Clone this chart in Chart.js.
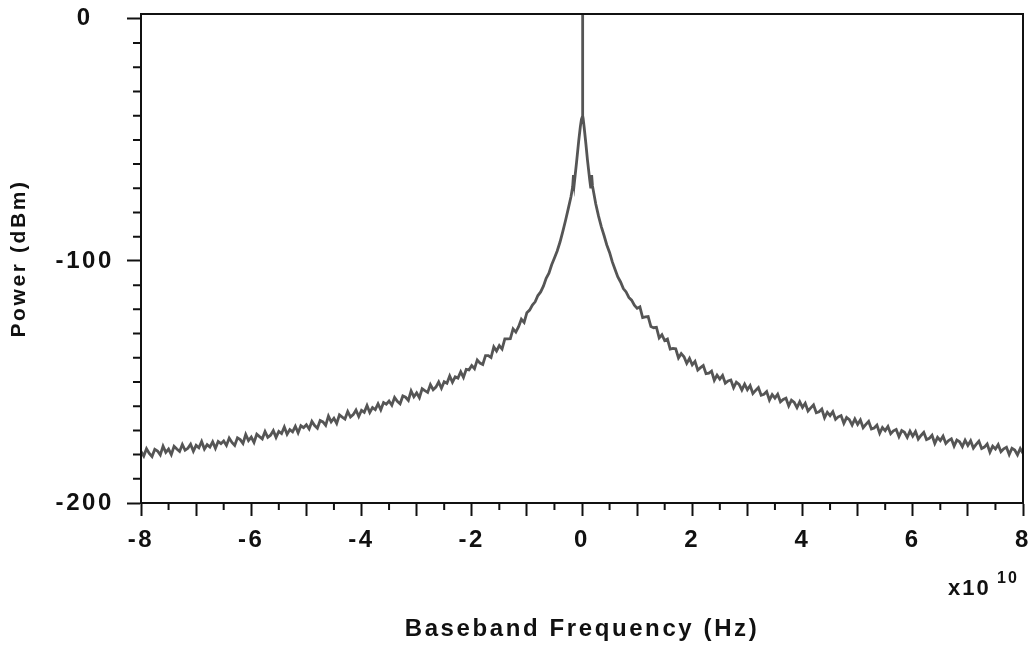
<!DOCTYPE html>
<html>
<head>
<meta charset="utf-8">
<script src="https://cdn.jsdelivr.net/npm/chart.js@4"></script>
<style>
  html, body { margin: 0; padding: 0; background: #fff; }
  #wrap { width: 1034px; height: 648px; }
</style>
</head>
<body>
<div id="wrap"><canvas id="spec"></canvas></div>
<script>
// frequency in units of 1e10 Hz, power in dBm
const freq = [
  -8.00, -7.95, -7.90, -7.85, -7.80, -7.75, -7.70, -7.65, -7.60, -7.55,
  -7.50, -7.45, -7.40, -7.35, -7.30, -7.25, -7.20, -7.15, -7.10, -7.05,
  -7.00, -6.95, -6.90, -6.85, -6.80, -6.75, -6.70, -6.65, -6.60, -6.55,
  -6.50, -6.45, -6.40, -6.35, -6.30, -6.25, -6.20, -6.15, -6.10, -6.05,
  -6.00, -5.95, -5.90, -5.85, -5.80, -5.75, -5.70, -5.65, -5.60, -5.55,
  -5.50, -5.45, -5.40, -5.35, -5.30, -5.25, -5.20, -5.15, -5.10, -5.05,
  -5.00, -4.95, -4.90, -4.85, -4.80, -4.75, -4.70, -4.65, -4.60, -4.55,
  -4.50, -4.45, -4.40, -4.35, -4.30, -4.25, -4.20, -4.15, -4.10, -4.05,
  -4.00, -3.95, -3.90, -3.85, -3.80, -3.75, -3.70, -3.65, -3.60, -3.55,
  -3.50, -3.45, -3.40, -3.35, -3.30, -3.25, -3.20, -3.15, -3.10, -3.05,
  -3.00, -2.95, -2.90, -2.85, -2.80, -2.75, -2.70, -2.65, -2.60, -2.55,
  -2.50, -2.45, -2.40, -2.35, -2.30, -2.25, -2.20, -2.15, -2.10, -2.05,
  -2.00, -1.95, -1.90, -1.85, -1.80, -1.75, -1.70, -1.65, -1.60, -1.55,
  -1.50, -1.45, -1.40, -1.35, -1.30, -1.25, -1.20, -1.15, -1.10, -1.05,
  -1.00, -0.95, -0.90, -0.85, -0.80, -0.75, -0.70, -0.65, -0.60, -0.55,
  -0.50, -0.45, -0.40, -0.35, -0.30, -0.25, -0.20, -0.17, -0.155, -0.14,
  -0.10, -0.06, -0.03, -0.01, 0.005, 0.010, 0.012, 0.014, 0.02, 0.04,
  0.07, 0.10, 0.14, 0.16, 0.175, 0.19, 0.25, 0.30, 0.35, 0.40,
  0.45, 0.50, 0.55, 0.60, 0.65, 0.70, 0.75, 0.80, 0.85, 0.90,
  0.95, 1.00, 1.05, 1.10, 1.15, 1.20, 1.25, 1.30, 1.35, 1.40,
  1.45, 1.50, 1.55, 1.60, 1.65, 1.70, 1.75, 1.80, 1.85, 1.90,
  1.95, 2.00, 2.05, 2.10, 2.15, 2.20, 2.25, 2.30, 2.35, 2.40,
  2.45, 2.50, 2.55, 2.60, 2.65, 2.70, 2.75, 2.80, 2.85, 2.90,
  2.95, 3.00, 3.05, 3.10, 3.15, 3.20, 3.25, 3.30, 3.35, 3.40,
  3.45, 3.50, 3.55, 3.60, 3.65, 3.70, 3.75, 3.80, 3.85, 3.90,
  3.95, 4.00, 4.05, 4.10, 4.15, 4.20, 4.25, 4.30, 4.35, 4.40,
  4.45, 4.50, 4.55, 4.60, 4.65, 4.70, 4.75, 4.80, 4.85, 4.90,
  4.95, 5.00, 5.05, 5.10, 5.15, 5.20, 5.25, 5.30, 5.35, 5.40,
  5.45, 5.50, 5.55, 5.60, 5.65, 5.70, 5.75, 5.80, 5.85, 5.90,
  5.95, 6.00, 6.05, 6.10, 6.15, 6.20, 6.25, 6.30, 6.35, 6.40,
  6.45, 6.50, 6.55, 6.60, 6.65, 6.70, 6.75, 6.80, 6.85, 6.90,
  6.95, 7.00, 7.05, 7.10, 7.15, 7.20, 7.25, 7.30, 7.35, 7.40,
  7.45, 7.50, 7.55, 7.60, 7.65, 7.70, 7.75, 7.80, 7.85, 7.90,
  7.95, 8.00
];
const power = [
  -178.7, -180.6, -177.6, -179.5, -180.8, -177.8, -178.5, -180.1, -176.5, -179.1,
  -177.7, -180.0, -176.6, -177.7, -178.7, -175.8, -178.2, -177.4, -175.7, -178.6,
  -176.2, -177.2, -174.6, -177.7, -175.9, -176.9, -174.7, -177.4, -174.6, -175.5,
  -174.4, -176.2, -173.2, -175.0, -176.2, -173.1, -173.8, -175.4, -171.7, -174.2,
  -172.8, -175.0, -171.6, -172.6, -173.5, -170.5, -172.9, -172.0, -170.1, -172.9,
  -170.4, -171.3, -168.6, -171.6, -169.7, -170.6, -168.3, -171.0, -168.1, -168.9,
  -167.7, -169.4, -166.3, -168.0, -169.1, -165.9, -166.5, -167.9, -164.1, -166.5,
  -165.0, -167.1, -163.6, -164.5, -165.3, -162.2, -164.5, -163.5, -161.6, -164.3,
  -161.7, -162.5, -159.7, -162.6, -160.6, -161.4, -159.0, -161.5, -158.5, -159.2,
  -157.9, -159.6, -156.4, -158.0, -159.0, -155.8, -156.3, -157.6, -153.7, -156.1,
  -154.5, -156.5, -152.8, -153.6, -154.3, -151.1, -153.2, -152.1, -150.0, -152.6,
  -149.9, -150.5, -147.5, -150.1, -147.9, -148.4, -145.8, -148.1, -144.8, -145.0,
  -143.2, -144.5, -140.9, -142.2, -142.8, -139.1, -139.1, -139.9, -135.5, -137.2,
  -135.0, -136.4, -132.2, -132.2, -132.1, -128.1, -129.4, -127.2, -124.1, -125.4,
  -121.4, -120.3, -118.2, -116.9, -114.3, -112.8, -110.4, -107.2, -105.1, -101.6,
  -98.8, -95.9, -92.3, -88.0, -83.4, -78.5, -73.5, -69.5, -64.5, -68.0,
  -59.5, -50.5, -44.5, -41.5, -40.5, -40.0, 2.0, -40.0, -41.0, -45.0,
  -51.5, -58.5, -66.5, -70.0, -64.5, -69.0, -76.5, -81.5, -85.8, -89.5,
  -93.4, -96.5, -100.4, -103.5, -106.6, -108.7, -111.4, -112.8, -115.1, -116.2,
  -118.3, -119.6, -119.0, -123.4, -123.1, -123.0, -127.1, -127.6, -127.4, -131.8,
  -130.5, -132.9, -132.3, -136.4, -136.1, -136.3, -140.1, -138.3, -139.6, -142.3,
  -140.3, -142.9, -141.5, -145.1, -144.1, -143.2, -146.6, -146.4, -145.5, -149.3,
  -147.2, -148.8, -147.3, -150.5, -149.6, -149.2, -152.4, -150.1, -151.0, -153.3,
  -150.9, -153.2, -151.5, -154.8, -153.5, -152.3, -155.5, -155.1, -154.0, -157.5,
  -155.2, -156.7, -155.1, -158.2, -157.2, -156.7, -159.9, -157.5, -158.4, -160.6,
  -158.2, -160.5, -158.8, -162.0, -160.7, -159.5, -162.7, -162.3, -161.2, -164.8,
  -162.5, -163.9, -162.3, -165.4, -164.4, -163.9, -167.1, -164.7, -165.6, -167.8,
  -165.3, -167.5, -165.7, -168.9, -167.5, -166.3, -169.4, -169.0, -167.8, -171.2,
  -168.8, -170.1, -168.4, -171.4, -170.2, -169.6, -172.6, -170.1, -170.8, -172.9,
  -170.3, -172.4, -170.5, -173.6, -172.1, -170.8, -173.8, -173.3, -172.0, -175.4,
  -172.9, -174.2, -172.4, -175.4, -174.2, -173.5, -176.5, -174.0, -174.7, -176.7,
  -174.1, -176.2, -174.3, -177.3, -175.8, -174.5, -177.5, -176.9, -175.6, -179.0,
  -176.5, -177.7, -175.9, -178.8, -177.6, -177.0, -180.0, -177.4, -178.1, -180.1,
  -177.5, -179.5
];

const xLabelled = [-8, -6, -4, -2, 0, 2, 4, 6, 8];
const xMinor = [-7.5, -6.5, -5.5, -4.5, -3.5, -2.5, -1.5, -0.5, 0.5, 1.5, 2.5, 3.5, 4.5, 5.5, 6.5, 7.5];
const yMajor = [-200, -100, 0];
const yMinor = [-190, -180, -170, -160, -150, -140, -130, -120, -110, -90, -80, -70, -60, -50, -40, -30, -20, -10];

const ink = '#111';
const fontFamily = "'Liberation Sans', Arial, sans-serif";

const spacing = {
  id: 'spacing',
  beforeUpdate(chart) { chart.ctx.letterSpacing = '2.6px'; },
  beforeDraw(chart) { chart.ctx.letterSpacing = '2.6px'; }
};

const extras = {
  id: 'extras',
  afterDraw(chart) {
    const { ctx, chartArea: a, scales } = chart;
    const xs = scales.x, ys = scales.y;
    ctx.save();
    ctx.strokeStyle = ink;
    ctx.lineWidth = 2;
    ctx.strokeRect(a.left, a.top, a.right - a.left, a.bottom - a.top);
    ctx.beginPath();
    xMinor.forEach(v => {
      const px = xs.getPixelForValue(v);
      ctx.moveTo(px, a.bottom);
      ctx.lineTo(px, a.bottom + 7);
    });
    yMinor.forEach(v => {
      const py = ys.getPixelForValue(v);
      ctx.moveTo(a.left, py);
      ctx.lineTo(a.left - 8, py);
    });
    ctx.stroke();
    // exponent of the x axis
    ctx.fillStyle = ink;
    ctx.letterSpacing = '2px';
    ctx.textBaseline = 'alphabetic';
    ctx.textAlign = 'left';
    ctx.font = 'bold 22px ' + fontFamily;
    ctx.fillText('x10', 948, 595);
    ctx.font = 'bold 16px ' + fontFamily;
    ctx.fillText('10', 997, 583);
    ctx.restore();
  }
};

new Chart(document.getElementById('spec'), {
  type: 'line',
  data: {
    datasets: [{
      data: freq.map((f, i) => ({ x: f, y: power[i] })),
      borderColor: '#555',
      borderWidth: 2.8,
      pointRadius: 0,
      tension: 0,
      fill: false
    }]
  },
  options: {
    responsive: true,
    maintainAspectRatio: false,
    animation: false,
    layout: { padding: { left: 0, top: 14, right: 11, bottom: 0 } },
    plugins: { legend: { display: false }, tooltip: { enabled: false } },
    scales: {
      x: {
        type: 'linear',
        min: -8,
        max: 8,
        afterFit: s => {
          s.height = 145;
          s.paddingLeft = 0;
          s.paddingRight = 0;
        },
        ticks: {
          stepSize: 1,
          autoSkip: false,
          maxRotation: 0,
          padding: 10,
          color: ink,
          font: { family: fontFamily, size: 24, weight: 'bold' },
          callback: v => (xLabelled.includes(v) ? String(v) : '')
        },
        grid: { drawOnChartArea: false, tickLength: 13, tickColor: ink, tickWidth: 2 },
        border: { display: true, color: ink, width: 2 },
        title: {
          display: true,
          text: 'Baseband Frequency (Hz)',
          color: ink,
          font: { family: fontFamily, size: 24, weight: 'bold' },
          padding: { top: 0, bottom: 4 }
        }
      },
      y: {
        min: -200,
        max: 2,
        afterFit: s => {
          s.width = 141;
          s.paddingTop = 0;
          s.paddingBottom = 0;
        },
        afterBuildTicks: s => { s.ticks = yMajor.map(v => ({ value: v })); },
        ticks: {
          padding: 13,
          crossAlign: 'center',
          color: ink,
          font: { family: fontFamily, size: 24, weight: 'bold' },
          callback: v => String(v)
        },
        grid: { drawOnChartArea: false, tickLength: 14, tickColor: ink, tickWidth: 2 },
        border: { display: true, color: ink, width: 2 },
        title: {
          display: true,
          text: 'Power (dBm)',
          color: ink,
          font: { family: fontFamily, size: 21, weight: 'bold' },
          padding: { top: 7, bottom: 0 }
        }
      }
    }
  },
  plugins: [spacing, extras]
});
</script>
</body>
</html>
